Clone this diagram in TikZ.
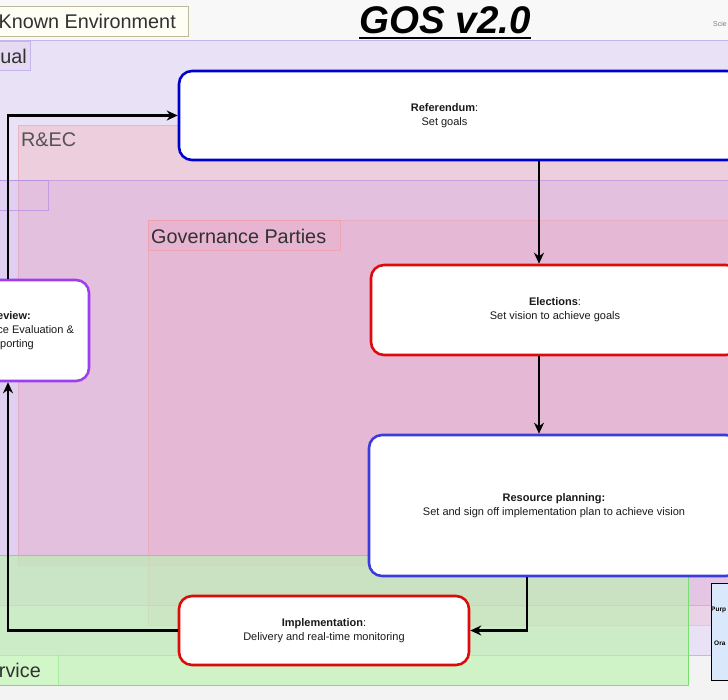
\documentclass[tikz,border=0pt]{standalone}
\usepackage{fontspec}
\setmainfont{Liberation Sans}
\usetikzlibrary{arrows.meta}
\definecolor{pagebg}{HTML}{F3F3F3}
\definecolor{topband}{HTML}{F8F8F8}
\definecolor{annualfill}{HTML}{E9E1F5}
\definecolor{annualdraw}{HTML}{C4B6EC}
\definecolor{recfill}{HTML}{F2B0B4}
\definecolor{recdraw}{HTML}{E8A0A8}
\definecolor{qfill}{HTML}{C89AE4}
\definecolor{qdraw}{HTML}{B48CE4}
\definecolor{govfill}{HTML}{F0A8C0}
\definecolor{govdraw}{HTML}{F0A0A8}
\definecolor{servfill}{HTML}{BDF2B0}
\definecolor{servdraw}{HTML}{78E070}
\definecolor{boxblue}{HTML}{0000CC}
\definecolor{boxblueb}{HTML}{3A3ADD}
\definecolor{boxred}{HTML}{DD0A0A}
\definecolor{boxpurple}{HTML}{9D3FEF}
\definecolor{legendfill}{HTML}{DAE8FC}
\definecolor{txt}{HTML}{1A1A1A}
\begin{document}
\begin{tikzpicture}[x=1pt,y=-1pt,
  proc/.style={draw, line width=2.6pt, rounded corners=13pt, fill=white, align=center,
    font=\fontsize{11}{14}\selectfont, text=txt, inner sep=0pt},
  proctext/.style={align=center, font=\fontsize{11}{14}\selectfont, text=txt, inner sep=0pt},
  arr/.style={draw=black, line width=2.4pt, -{Stealth[length=11pt,width=10pt]}},
  regionlabel/.style={font=\fontsize{19.8}{22}\selectfont, text=txt!90, inner sep=0pt},
  labelbox/.style={line width=0.8pt}
]
\useasboundingbox (0,0) rectangle (728,700);
\fill[pagebg] (0,0) rectangle (728,700);
\fill[topband] (0,0) rectangle (728,40);

% regions
\path[fill=annualfill, draw=annualdraw, line width=0.8pt] (-10,40) rectangle (740,655);
\path[fill=recfill, fill opacity=0.38, draw=recdraw, draw opacity=0.5, line width=0.8pt] (18,125) rectangle (740,565);
\path[fill=qfill, fill opacity=0.25, draw=qdraw, draw opacity=0.6, line width=0.8pt] (-10,180) rectangle (740,605);
\path[fill=govfill, fill opacity=0.25, draw=govdraw, draw opacity=0.5, line width=0.8pt] (148,220) rectangle (740,625);
\path[fill=servfill, fill opacity=0.65, draw=servdraw, line width=1pt] (-10,555) rectangle (688,685);

% label boxes
\path[fill=white!96!yellow, draw=gray!70!olive!60, labelbox] (-40,6) rectangle (188,36);
\node[regionlabel, anchor=east] (knownlbl) at (176,21.5) {Known Environment};
\path[fill=annualfill!90!qfill, draw=annualdraw, labelbox] (-30,41) rectangle (30,70);
\node[regionlabel, anchor=east] (annuallbl) at (27,56) {ual};
\node[regionlabel, anchor=west, text=txt!75] (reclbl) at (21,140) {R\&EC};
\path[draw=qdraw, draw opacity=0.7, labelbox] (-30,180) rectangle (48,210);
\path[fill=govfill, fill opacity=0.2, draw=govdraw, draw opacity=0.8, labelbox] (148,220) rectangle (340,250);
\node[regionlabel, anchor=west] (govlbl) at (151,236) {Governance Parties};
\path[fill=servfill!70!white, draw=servdraw, draw opacity=0.4, labelbox] (-30,655) rectangle (58,685);
\node[regionlabel, anchor=east] (servlbl) at (41,670) {rvice};

% title
\node[font=\fontsize{38.5}{42}\bfseries\itshape\selectfont, text=black, inner sep=0pt] (title) at (445,20.5) {GOS v2.0};
\draw[line width=2pt] (title.south west |- 0,38) -- (title.south east |- 0,38);
\node[font=\fontsize{7}{8}\selectfont, text=gray, anchor=west, inner sep=0pt] (scie) at (713,24) {Scie};

% legend
\path[fill=legendfill, draw=black, line width=0.8pt] (711,583) rectangle (740,680);
\node[font=\fontsize{6.5}{8}\bfseries\selectfont, anchor=west, inner sep=0pt] (leg1) at (711,610) {Purp};
\node[font=\fontsize{6.5}{8}\bfseries\selectfont, anchor=west, inner sep=0pt] (leg2) at (714,643) {Ora};

% process boxes
\node[proc, draw=boxblue, minimum width=561pt, minimum height=89pt,
  label={[proctext, xshift=-15pt]center:{\textbf{Referendum}:\\Set goals}}] (ref) at (459.5,115.5) {};
\node[proc, draw=boxred, minimum width=368pt, minimum height=90pt] (elec) at (555,310)
  {\textbf{Elections}:\\Set vision to achieve goals};
\node[proc, draw=boxblueb, minimum width=370pt, minimum height=141pt] (res) at (554,505.5)
  {\textbf{Resource planning:}\\Set and sign off implementation plan to achieve vision};
\node[proc, draw=boxred, minimum width=290pt, minimum height=69pt] (impl) at (324,630.5)
  {\textbf{Implementation}:\\Delivery and real-time monitoring};
\node[proc, draw=boxpurple, minimum width=158pt, minimum height=101pt] (rev) at (10,330.5)
  {\textbf{Review:}\\Performance Evaluation \&\\Reporting};

% connectors
\coordinate (xa) at (539,0);
\coordinate (xb) at (527,0);
\coordinate (xc) at (8,0);
\draw[arr] (ref.south -| xa) -- (elec.north -| xa);
\draw[arr] (elec.south -| xa) -- (res.north -| xa);
\draw[arr] (res.south -| xb) |- (impl.east);
\draw[arr] (impl.west) -| (rev.south -| xc);
\draw[arr] (rev.north -| xc) |- (ref.west);
\end{tikzpicture}
\end{document}
